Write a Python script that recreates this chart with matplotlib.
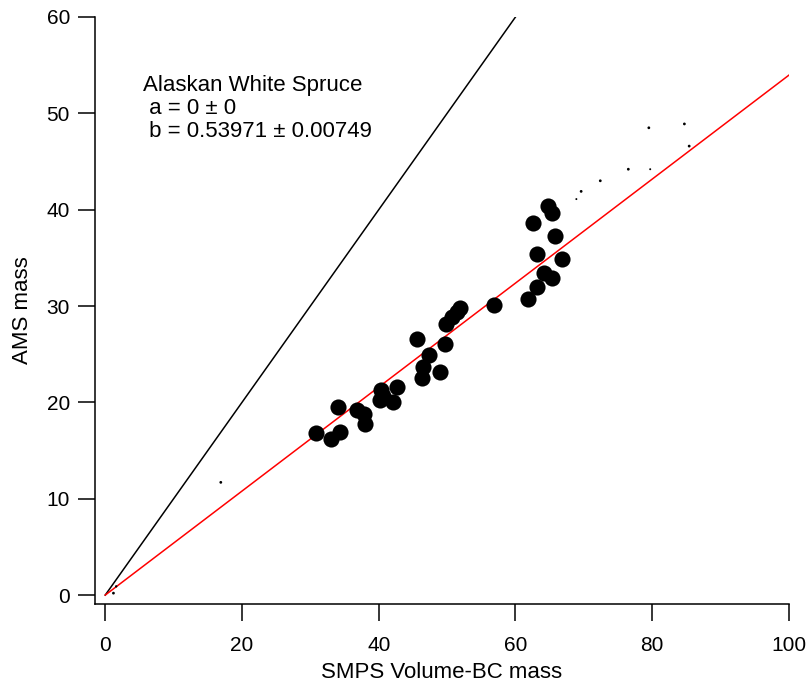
import numpy as np
import matplotlib
matplotlib.use("Agg")
import matplotlib.pyplot as plt

plt.rcParams['font.family'] = ['Liberation Sans', 'DejaVu Sans']

# big markers (fitted points)
x_big = [30.8, 33.0, 34.3, 34.1, 36.8, 37.9, 38.0, 40.4, 40.2, 40.6, 42.6, 42.1,
         45.6, 47.3, 46.5, 46.3, 49.0, 49.7, 49.9, 50.7, 51.4, 51.9, 56.8,
         61.9, 63.1, 64.1, 65.3, 63.1, 66.8, 65.8, 62.6, 65.3, 64.8]
y_big = [16.8, 16.2, 16.9, 19.5, 19.2, 18.8, 17.8, 21.3, 20.2, 20.7, 21.6, 20.0,
         26.6, 24.9, 23.7, 22.5, 23.2, 26.1, 28.1, 28.9, 29.4, 29.8, 30.1,
         30.7, 32.0, 33.4, 32.9, 35.4, 34.9, 37.3, 38.6, 39.7, 40.4]

# small markers (excluded points)
x_small = [1.2, 1.6, 16.9, 68.9, 69.6, 72.4, 76.5, 79.7, 79.5, 84.7, 85.4]
y_small = [0.2, 0.9, 11.7, 41.1, 41.9, 43.0, 44.2, 44.2, 48.5, 48.9, 46.6]
s_small = [4, 3, 4, 2, 4, 4, 4, 2, 4, 4, 4]

slope_fit = 0.53971
fit_label = ["Alaskan White Spruce", " a = 0 \u00b1 0", " b = 0.53971 \u00b1 0.00749"]

fig = plt.figure(figsize=(8.07, 6.85), dpi=100)
ax = fig.add_axes([0.1177, 0.1182, 0.86, 0.857])

# 1:1 line and fit line
ax.plot([0, 60], [0, 60], color='black', lw=1.1)
xf = np.array([0, 100])
ax.plot(xf, slope_fit * xf, color='red', lw=1.1)

ax.scatter(x_big, y_big, s=135, color='black', zorder=3, linewidths=0)
ax.scatter(x_small, y_small, s=s_small, color='black', zorder=3, linewidths=0)

ax.set_xlim(-1.5, 100)
ax.set_ylim(-0.93, 60)
ax.set_xticks([0, 20, 40, 60, 80, 100])
ax.set_yticks([0, 10, 20, 30, 40, 50, 60])
ax.spines['top'].set_visible(False)
ax.spines['right'].set_visible(False)
for sp in ['left', 'bottom']:
    ax.spines[sp].set_linewidth(1.1)
ax.tick_params(direction='out', length=12, width=1.1, labelsize=15, pad=6)
ax.tick_params(axis='x', pad=11)

ax.set_xlabel("SMPS Volume-BC mass", fontsize=16, labelpad=5)
ax.set_ylabel("AMS mass", fontsize=16, labelpad=10)

ax.text(5.5, 50.5, "\n".join(fit_label), fontsize=16, va='center', ha='left',
        linespacing=1.15)

fig.savefig("out.png", dpi=100)
